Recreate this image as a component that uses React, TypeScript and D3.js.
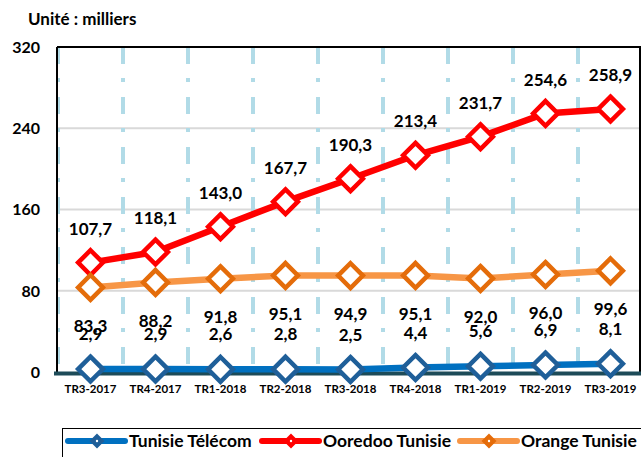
import React from 'react';
import * as d3 from 'd3';

const categories = ['TR3-2017', 'TR4-2017', 'TR1-2018', 'TR2-2018', 'TR3-2018', 'TR4-2018', 'TR1-2019', 'TR2-2019', 'TR3-2019'];
const telecomValues = [2.9, 2.9, 2.6, 2.8, 2.5, 4.4, 5.6, 6.9, 8.1];
const ooredooValues = [107.7, 118.1, 143.0, 167.7, 190.3, 213.4, 231.7, 254.6, 258.9];
const orangeValues = [83.3, 88.2, 91.8, 95.1, 94.9, 95.1, 92.0, 96.0, 99.6];
const yTicks = [0, 80, 160, 240, 320];

const series = [
    { name: 'Tunisie Télécom', values: telecomValues, line: '#0070c0', marker: '#1f5f99', labelDy: -35 },
    { name: 'Ooredoo Tunisie', values: ooredooValues, line: '#ff0000', marker: '#ff0000', labelDy: -34 },
    { name: 'Orange Tunisie', values: orangeValues, line: '#f79646', marker: '#e46c0a', labelDy: 38.5 },
];

const W = 641;
const H = 457;
const font = 'Lato, "Open Sans", sans-serif';

export default function App() {
    const left = 58, top = 47, bottom = 372;
    const x = d3.scaleBand<string>().domain(categories).range([left, left + 65 * 9]);
    const y = d3.scaleLinear().domain([0, 320]).range([bottom, top]);
    const cx = (c: string) => (x(c) as number) + x.bandwidth() / 2;

    const line = d3.line<number>()
        .x((_, i) => cx(categories[i]))
        .y(d => y(d));
    const diamond = d3.symbol().type(d3.symbolDiamond2).size(390)();
    const legendDiamond = d3.symbol().type(d3.symbolDiamond2).size(95)();
    const fmt = (v: number) => v.toFixed(1).replace('.', ',');

    // legend item positions
    const legendX = [68, 262, 460];

    return (
        <svg width={W} height={H} style={{ position: 'absolute', left: 0, top: 0, background: '#fff' }}>
            <text x={28} y={25} fontFamily={font} fontWeight="bold" fontSize={17} fill="#000">Unité : milliers</text>

            {/* horizontal gridlines */}
            {yTicks.filter(t => t > 0 && t < 320).map(t => (
                <line key={t} x1={left} x2={W} y1={y(t)} y2={y(t)} stroke="#d9d9d9" strokeWidth={2} />
            ))}

            {/* vertical dash-dot lines between categories */}
            {d3.range(0, categories.length + 1).map(i => (
                <line key={i} x1={left + x.step() * i} x2={left + x.step() * i} y1={top} y2={bottom}
                    stroke="#b1dbe7" strokeWidth={4} strokeDasharray="17 14 4 15" />
            ))}

            {/* plot border */}
            <line x1={left - 1} x2={W} y1={top} y2={top} stroke="#000" strokeWidth={2} />
            <line x1={W - 1} x2={W - 1} y1={top} y2={bottom} stroke="#000" strokeWidth={2} />
            <line x1={left - 1} x2={left - 1} y1={top} y2={bottom} stroke="#000" strokeWidth={2} />

            {/* y tick labels */}
            {yTicks.map(t => (
                <text key={t} x={40} y={y(t)} dy="0.36em" textAnchor="end" fontFamily={font} fontWeight="bold" fontSize={16}>{t}</text>
            ))}

            {/* x axis */}
            <line x1={54} x2={W} y1={bottom + 1.5} y2={bottom + 1.5} stroke="#1d4b58" strokeWidth={4} />
            {categories.map(c => (
                <text key={c} x={cx(c)} y={bottom + 21} textAnchor="middle" fontFamily={font} fontWeight="bold" fontSize={11.5}>{c}</text>
            ))}

            {/* series */}
            {series.map(s => (
                <g key={s.name}>
                    <path d={line(s.values) as string} fill="none" stroke={s.line} strokeWidth={6.5} strokeLinejoin="round" strokeLinecap="round" />
                    {s.values.map((v, i) => (
                        <path key={i} d={diamond as string} transform={`translate(${cx(categories[i])},${y(v)})`}
                            fill="#fff" stroke={s.marker} strokeWidth={4.5} />
                    ))}
                </g>
            ))}

            {/* data labels */}
            {series.map(s => s.values.map((v, i) => (
                <text key={s.name + i} x={cx(categories[i])} y={y(v) + s.labelDy} dy="0.36em" textAnchor="middle"
                    fontFamily={font} fontWeight="bold" fontSize={17}>{fmt(v)}</text>
            )))}

            {/* legend */}
            <rect x={62.5} y={428.5} width={W} height={40} fill="#fff" stroke="#000" strokeWidth={1} />
            {series.map((s, k) => (
                <g key={s.name} transform={`translate(${legendX[k]},441)`}>
                    <line x1={0} x2={57} y1={0} y2={0} stroke={s.line} strokeWidth={6} strokeLinecap="round" />
                    <path d={legendDiamond as string} transform="translate(29,0)" fill={s.marker} stroke={s.marker} strokeWidth={2} />
                    <circle cx={29} cy={0} r={1.2} fill="#fff" />
                    <text x={61} y={0} dy="0.36em" fontFamily={font} fontWeight="bold" fontSize={17.5}>{s.name}</text>
                </g>
            ))}
        </svg>
    );
}
